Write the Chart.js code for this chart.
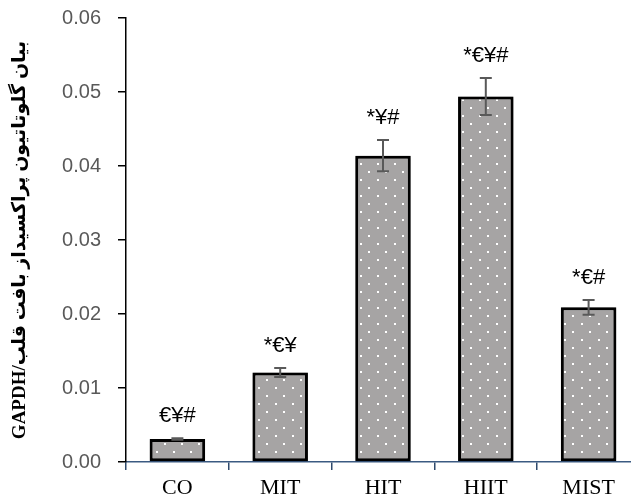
<!DOCTYPE html>
<html lang="fa">
<head>
  <meta charset="UTF-8" />
  <title>GPx expression</title>
  <script src="https://cdn.jsdelivr.net/npm/chart.js"></script>
  <style>
    html, body { margin: 0; padding: 0; background: #fff; overflow: hidden; }
    #wrap { width: 640px; height: 502px; }
  </style>
</head>
<body>
  <div id="wrap"><canvas id="chart" width="640" height="502"></canvas></div>

  <script>
    // values
    const groups = ['CO', 'MIT', 'HIT', 'HIIT', 'MIST'];
    const means = [0.0031, 0.0121, 0.0414, 0.0494, 0.0209];
    const errors = [0.0001, 0.0006, 0.0021, 0.0025, 0.0010];
    const marks = ['€¥#', '*€¥', '*¥#', '*€¥#', '*€#'];
    const yMin = 0, yMax = 0.06, yStep = 0.01;
    const yTitle = 'GAPDH/' + 'بیان گلوتاتیون پراکسیداز بافت قلب';

    // grey fill with staggered white dots
    function dotPattern() {
      const c = document.createElement('canvas');
      c.width = 17; c.height = 16;
      const g = c.getContext('2d');
      g.fillStyle = '#a6a4a4';
      g.fillRect(0, 0, 17, 16);
      g.fillStyle = '#ffffff';
      g.fillRect(3, 3, 2, 2);
      g.fillRect(11, 11, 2, 2);
      return g.createPattern(c, 'repeat');
    }

    // soft grey halo round the bars
    const barShadow = {
      id: 'barShadow',
      beforeDatasetDraw(chart) {
        const ctx = chart.ctx;
        ctx.save();
        ctx.shadowColor = 'rgba(0,0,0,0.35)';
        ctx.shadowBlur = 3;
      },
      afterDatasetDraw(chart) {
        chart.ctx.restore();
      }
    };

    const errorBars = {
      id: 'errorBars',
      afterDatasetsDraw(chart) {
        const ctx = chart.ctx;
        const y = chart.scales.y;
        const meta = chart.getDatasetMeta(0);
        ctx.save();
        ctx.strokeStyle = '#595959';
        ctx.lineWidth = 2;
        meta.data.forEach((bar, i) => {
          const top = y.getPixelForValue(means[i] + errors[i]);
          const bot = y.getPixelForValue(means[i] - errors[i]);
          ctx.beginPath();
          ctx.moveTo(bar.x, top); ctx.lineTo(bar.x, bot);
          ctx.moveTo(bar.x - 6, top); ctx.lineTo(bar.x + 6, top);
          ctx.moveTo(bar.x - 6, bot); ctx.lineTo(bar.x + 6, bot);
          ctx.stroke();
        });
        ctx.restore();
      }
    };

    const sigLabels = {
      id: 'sigLabels',
      afterDatasetsDraw(chart) {
        const ctx = chart.ctx;
        const y = chart.scales.y;
        const meta = chart.getDatasetMeta(0);
        ctx.save();
        ctx.fillStyle = '#000';
        ctx.font = '22px "Liberation Sans", Arial, sans-serif';
        ctx.textAlign = 'center';
        ctx.textBaseline = 'alphabetic';
        meta.data.forEach((bar, i) => {
          const top = y.getPixelForValue(means[i] + errors[i]);
          ctx.fillText(marks[i], bar.x, top - 16);
        });
        ctx.restore();
      }
    };

    const ctx = document.getElementById('chart').getContext('2d');
    new Chart(ctx, {
      type: 'bar',
      data: {
        labels: groups,
        datasets: [{
          data: means,
          backgroundColor: dotPattern(),
          borderColor: '#000',
          borderWidth: 3,
          borderSkipped: false,
          barPercentage: 0.54,
          categoryPercentage: 1
        }]
      },
      options: {
        responsive: false,
        animation: false,
        layout: { padding: { top: 18, right: 0, bottom: 0, left: 0 } },
        plugins: {
          legend: { display: false },
          tooltip: { enabled: false }
        },
        scales: {
          x: {
            afterFit(scale) { scale.height = 40; },
            grid: {
              drawOnChartArea: false,
              tickLength: 8,
              color: '#2f4a6d',
              lineWidth: 1.5
            },
            border: { color: '#3b5a82', width: 1.5 },
            ticks: {
              color: '#000',
              padding: 5,
              font: { family: '"Liberation Serif", "Times New Roman", serif', size: 22 }
            }
          },
          y: {
            min: yMin,
            max: yMax,
            afterFit(scale) {
              scale.width = 126;
              scale.paddingTop = 0;
              scale.paddingBottom = 0;
            },
            grid: {
              drawOnChartArea: false,
              tickLength: 8,
              color: '#000',
              lineWidth: 1.5
            },
            border: { color: '#000', width: 1.5 },
            ticks: {
              stepSize: yStep,
              color: '#595959',
              padding: 17,
              font: { family: '"Liberation Sans", Arial, sans-serif', size: 20 },
              callback: v => v.toFixed(2)
            },
            title: {
              display: true,
              text: yTitle,
              color: '#000',
              padding: { top: 9, bottom: 0 },
              font: { family: '"Liberation Serif", "DejaVu Sans", serif', size: 19, weight: 'bold' }
            }
          }
        }
      },
      plugins: [barShadow, errorBars, sigLabels]
    });
  </script>
</body>
</html>
